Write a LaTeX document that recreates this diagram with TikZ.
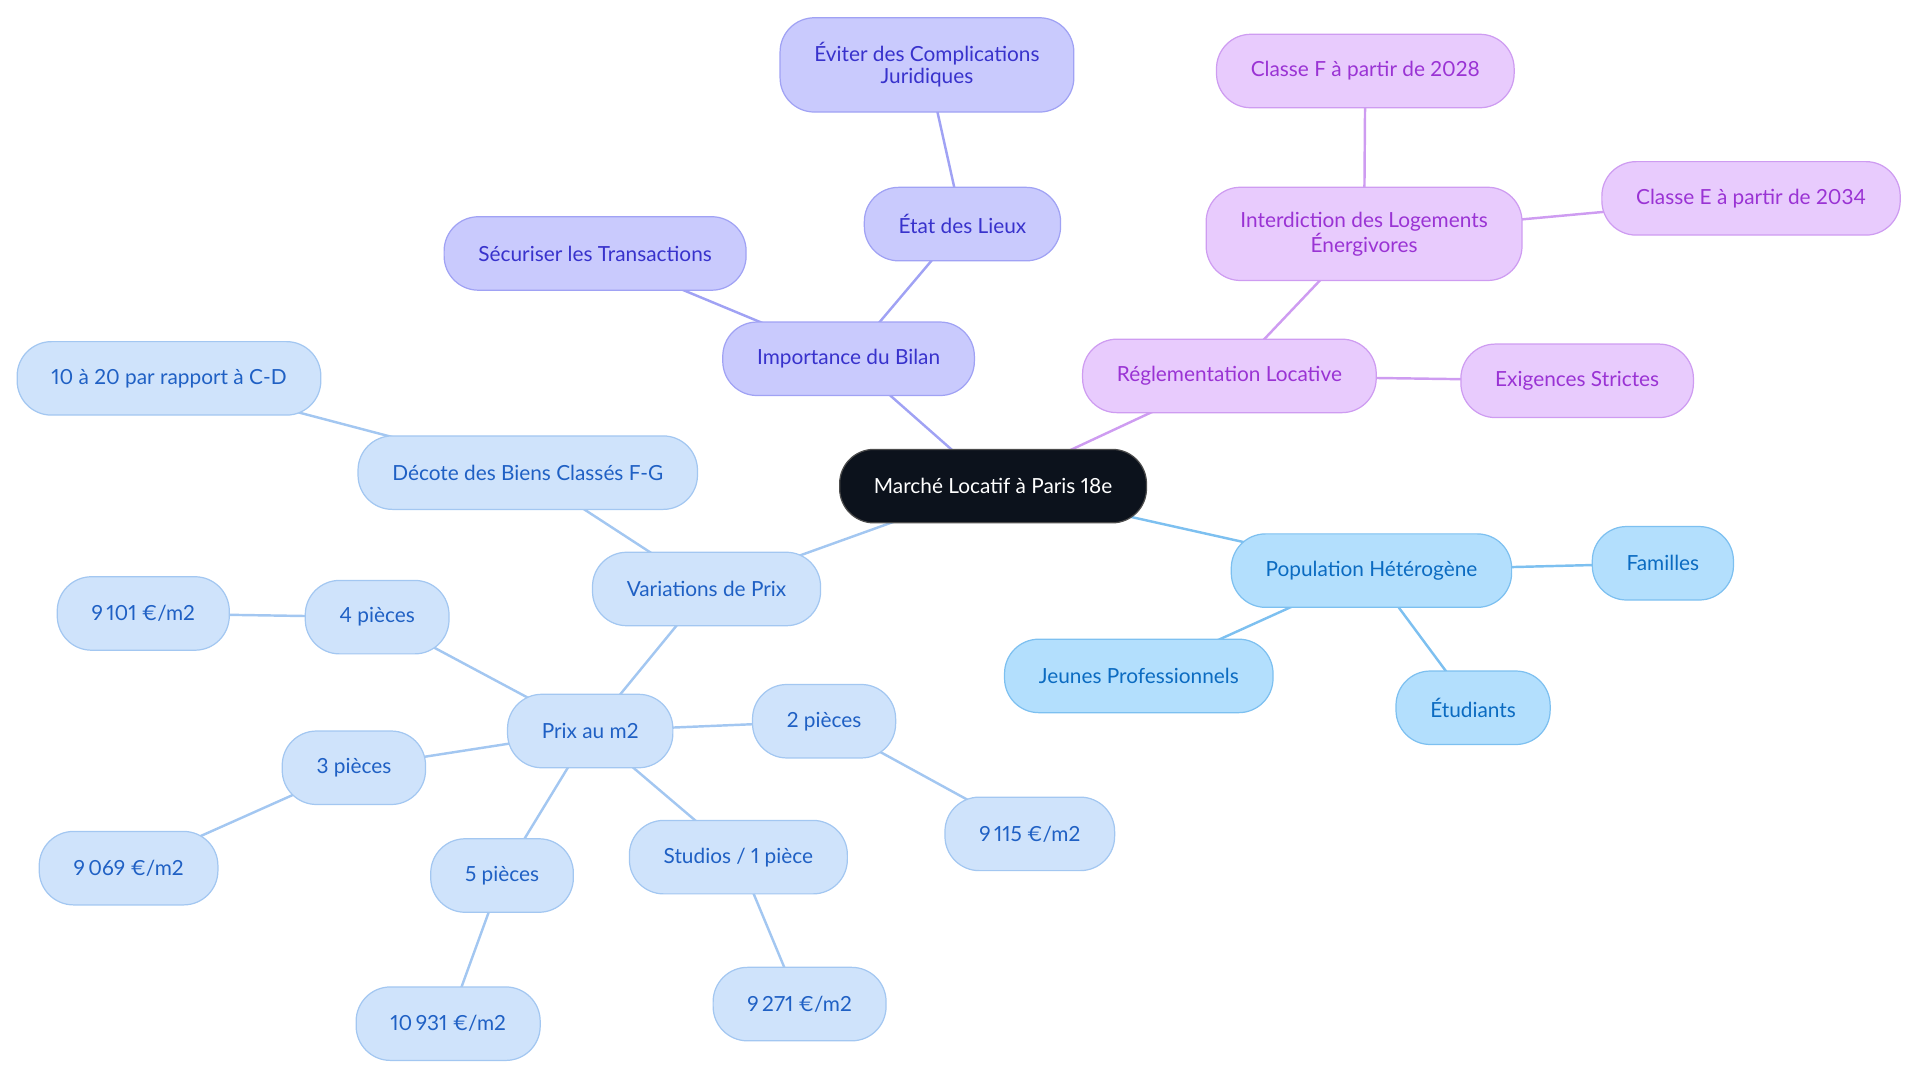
\documentclass[tikz,border=0pt]{standalone}
\usepackage{fontspec}
\setmainfont{Lato}[Numbers=Proportional]
\usetikzlibrary{backgrounds}

\definecolor{rootfill}{HTML}{0C121C}
\definecolor{prixfill}{HTML}{CFE3FB}
\definecolor{prixline}{HTML}{A3C7F1}
\definecolor{prixtext}{HTML}{1F60C4}
\definecolor{popfill}{HTML}{B3DFFD}
\definecolor{popline}{HTML}{7DC0F0}
\definecolor{poptext}{HTML}{0B6BC1}
\definecolor{bilanfill}{HTML}{C9CAFD}
\definecolor{bilanline}{HTML}{A0A2F4}
\definecolor{bilantext}{HTML}{3832CC}
\definecolor{reglfill}{HTML}{E8CBFD}
\definecolor{reglline}{HTML}{CE9CF1}
\definecolor{regltext}{HTML}{9A33D4}

\tikzset{
  bubble/.style={draw, line width=0.6pt, rounded corners=16.8pt, minimum height=36pt,
    inner xsep=16.8pt, inner ysep=12pt, align=center,
    font=\fontsize{10.2}{11}\selectfont},
  root/.style={bubble, fill=rootfill, draw=black!70, text=white},
  prix/.style={bubble, fill=prixfill, draw=prixline, text=prixtext},
  pop/.style={bubble, fill=popfill, draw=popline, text=poptext},
  bilan/.style={bubble, fill=bilanfill, draw=bilanline, text=bilantext},
  regl/.style={bubble, fill=reglfill, draw=reglline, text=regltext},
  link/.style={line width=1.2pt}
}

\begin{document}
\begin{tikzpicture}[x=0.6pt,y=-0.6pt]
  \useasboundingbox (0,0) rectangle (1568,884.4);

  \node[root] (marche) at (811,397) {Marché Locatif à Paris 18e};

  % bilan
  \node[bilan] (bilan) at (693,293) {Importance du Bilan};
  \node[bilan] (securiser) at (486,207) {Sécuriser les Transactions};
  \node[bilan] (etat) at (786,183) {État des Lieux};
  \node[bilan] (eviter) at (757,53) {Éviter des Complications\\Juridiques};

  % reglementation
  \node[regl] (regl) at (1004,307) {Réglementation Locative};
  \node[regl] (interdiction) at (1114,191) {Interdiction des Logements\\Énergivores};
  \node[regl] (classeF) at (1115,58) {Classe F à partir de 2028};
  \node[regl] (classeE) at (1430,162) {Classe E à partir de 2034};
  \node[regl] (exigences) at (1288,311) {Exigences Strictes};

  % population
  \node[pop] (population) at (1120,466) {Population Hétérogène};
  \node[pop] (familles) at (1358,460) {Familles};
  \node[pop] (jeunes) at (930,552) {Jeunes Professionnels};
  \node[pop] (etudiants) at (1203,578) {Étudiants};

  % prix
  \node[prix] (variations) at (577,481) {Variations de Prix};
  \node[prix] (decote) at (431,386) {Décote des Biens Classés F-G};
  \node[prix] (dixvingt) at (138,309) {10 à 20 par rapport à C-D};
  \node[prix] (prixm2) at (482,597) {Prix au m2};
  \node[prix] (p4) at (308,504) {4 pièces};
  \node[prix] (v4) at (117,501) {9\,101 €/m2};
  \node[prix] (p3) at (289,627) {3 pièces};
  \node[prix] (v3) at (105,709) {9\,069 €/m2};
  \node[prix] (p2) at (673,589) {2 pièces};
  \node[prix] (v2) at (841,681) {9\,115 €/m2};
  \node[prix] (p5) at (410,715) {5 pièces};
  \node[prix] (v5) at (366,836) {10\,931 €/m2};
  \node[prix] (studios) at (603,700) {Studios / 1 pièce};
  \node[prix] (v1) at (653,820) {9\,271 €/m2};

  \begin{scope}[on background layer]
    \path[link,draw=bilanline] (marche.center) edge (bilan.center)
      (bilan.center) edge (securiser.center)
      (bilan.center) edge (etat.center)
      (etat.center) edge (eviter.center);
    \path[link,draw=reglline] (marche.center) edge (regl.center)
      (regl.center) edge (interdiction.center)
      (interdiction.center) edge (classeF.center)
      (interdiction.center) edge (classeE.center)
      (regl.center) edge (exigences.center);
    \path[link,draw=popline] (marche.center) edge (population.center)
      (population.center) edge (familles.center)
      (population.center) edge (jeunes.center)
      (population.center) edge (etudiants.center);
    \path[link,draw=prixline] (marche.center) edge (variations.center)
      (variations.center) edge (decote.center)
      (decote.center) edge (dixvingt.center)
      (variations.center) edge (prixm2.center)
      (prixm2.center) edge (p4.center)
      (p4.center) edge (v4.center)
      (prixm2.center) edge (p3.center)
      (p3.center) edge (v3.center)
      (prixm2.center) edge (p2.center)
      (p2.center) edge (v2.center)
      (prixm2.center) edge (p5.center)
      (p5.center) edge (v5.center)
      (prixm2.center) edge (studios.center)
      (studios.center) edge (v1.center);
  \end{scope}
\end{tikzpicture}
\end{document}
